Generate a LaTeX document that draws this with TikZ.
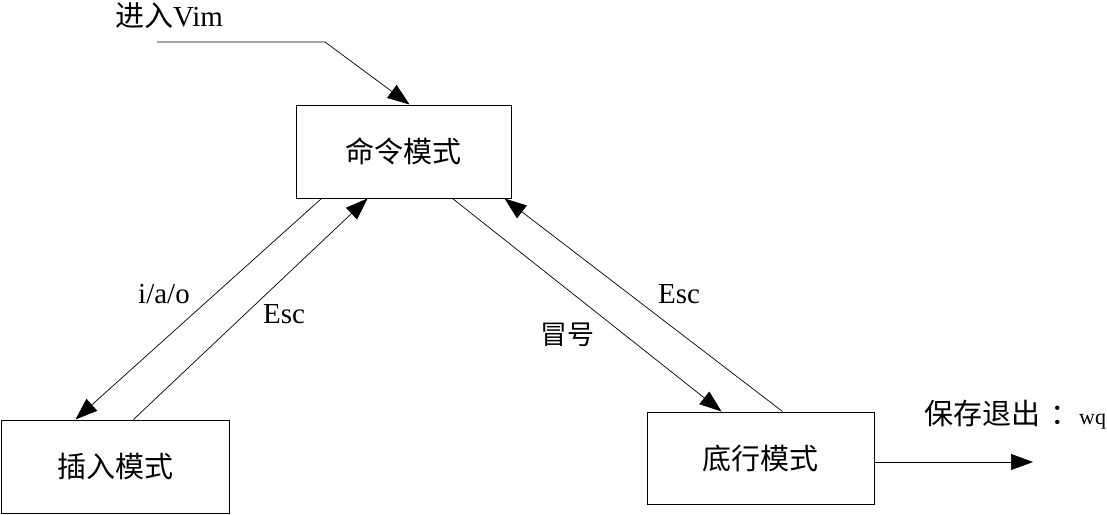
\documentclass[tikz,border=0pt]{standalone}
\usepackage{fontspec}
\setmainfont{Liberation Serif}
\newfontfamily\cjk{Noto Sans CJK SC}
\usetikzlibrary{arrows.meta}
\tikzset{
  modebox/.style={draw, line width=1pt, minimum height=93pt, inner sep=0pt, font=\cjk\fontsize{29}{32}\selectfont},
  lbl/.style={inner sep=0pt, font=\fontsize{29}{32}\selectfont},
  arr/.style={line width=0.7pt, -{Triangle[length=22pt,width=16pt]}}
}
\begin{document}
\begin{tikzpicture}[x=1pt,y=-1pt]
    \useasboundingbox (0,0) rectangle (1107,514);
    \node[modebox, minimum width=215pt] (cmd) at (403.5,151.5) {命令模式};
    \node[modebox, minimum width=228pt] (ins) at (115,466.5) {插入模式};
    \node[modebox, minimum width=227pt, minimum height=92pt] (last) at (760.5,458) {底行模式};
    \node[lbl] (enter) at (169,16) {{\cjk 进入}Vim};
    \coordinate (start) at (157,42);
    \coordinate (bend) at (325,42);
    \draw[arr] (start) -- (bend) -- ([xshift=114pt]cmd.north west);
    \draw[arr] ([xshift=26pt]cmd.south west) -- ([xshift=75pt]ins.north west);
    \draw[arr] ([xshift=133pt]ins.north west) -- ([xshift=72pt]cmd.south west);
    \draw[arr] ([xshift=157pt]cmd.south west) -- ([xshift=75pt]last.north west);
    \draw[arr] ([xshift=136pt]last.north west) -- ([xshift=209pt]cmd.south west);
    \node[lbl] (iao) at (164,294) {i/a/o};
    \node[lbl] (escl) at (284,314) {Esc};
    \node[lbl, font=\cjk\fontsize{27}{30}\selectfont] (colon) at (567,335) {冒号};
    \node[lbl] (escr) at (679,294) {Esc};
    \coordinate (quit) at (1033,462);
    \draw[arr] (last.east |- quit) -- (quit);
    \node[lbl, anchor=west] (save) at (924,415) {{\cjk 保存退出}\hspace{10pt}{\cjk ：}{\fontsize{22}{26}\selectfont wq}};
\end{tikzpicture}
\end{document}
